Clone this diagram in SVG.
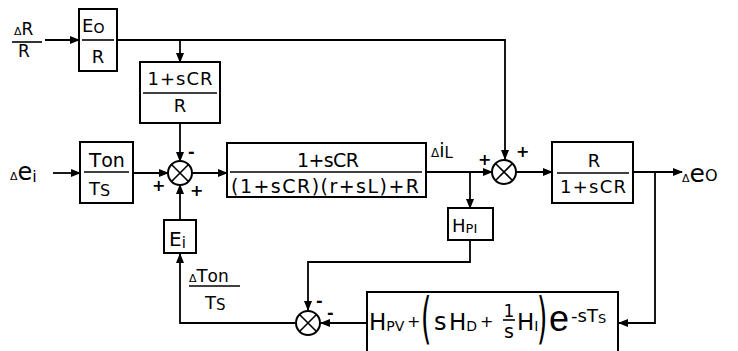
<svg xmlns="http://www.w3.org/2000/svg" width="738" height="351" viewBox="0 0 738 351">
<defs>
<marker id="ah" markerUnits="userSpaceOnUse" markerWidth="10" markerHeight="8" refX="9" refY="4" orient="auto">
<path d="M0,0 L10,4 L0,8 Z" fill="#000"/>
</marker>
<style>
.b{fill:#fff;stroke:#000;stroke-width:2}
.c{fill:none;stroke:#000;stroke-width:1.8}
.a{marker-end:url(#ah)}
.f{stroke:#000;stroke-width:1.6}
text{font-family:"DejaVu Sans","Liberation Sans",sans-serif;fill:#000}
.t18{font-size:18px}
.t19{font-size:19px}
.t20{font-size:20px}
.sg{font-size:16px;font-weight:bold}
.ls{font-family:"Liberation Sans","DejaVu Sans",sans-serif}
</style>
</defs>
<rect width="738" height="351" fill="#fff"/>

<g id="connectors">
<path class="c a" d="M45,40 H79"/>
<path class="c a" d="M117,40 H505 V159"/>
<path class="c a" d="M180,40 V62"/>
<path class="c a" d="M180,123 V161"/>
<path class="c a" d="M53,173 H80"/>
<path class="c a" d="M133,173 H168"/>
<path class="c a" d="M192,173 H227"/>
<path class="c a" d="M426,172 H492"/>
<path class="c a" d="M470,172 V208"/>
<path class="c a" d="M516,172 H552"/>
<path class="c a" d="M633,172 H682"/>
<path class="c a" d="M655,172 V323 H619"/>
<path class="c a" d="M367,323 H321"/>
<path class="c a" d="M470,240 V262 H308 V310"/>
<path class="c a" d="M295,323 H180 V254"/>
<path class="c a" d="M180,220 V185"/>
</g>

<g id="in_dR">
<text x="14" y="35" font-size="17"><tspan font-size="11">Δ</tspan>R</text>
<line class="f" x1="12" y1="42" x2="42" y2="42"/>
<text x="18" y="57" font-size="17">R</text>
</g>

<g id="box_Eo">
<rect class="b" x="79" y="9" width="38" height="62"/>
<text x="82" y="32" class="t18">E<tspan font-size="14" dy="1">O</tspan></text>
<line class="f" x1="82" y1="40" x2="114" y2="40"/>
<text x="98" y="63" class="t18" text-anchor="middle">R</text>
</g>

<g id="box_CR">
<rect class="b" x="140" y="62" width="80" height="61"/>
<text x="180" y="85" class="t18" text-anchor="middle" textLength="65">1+sCR</text>
<line class="f" x1="143" y1="93" x2="217" y2="93"/>
<text x="180" y="112" class="t18" text-anchor="middle">R</text>
</g>

<g id="in_dei">
<text x="10" y="180" font-size="24"><tspan font-size="11">Δ</tspan>e<tspan font-size="16" dy="2">i</tspan></text>
</g>

<g id="box_Ton">
<rect class="b" x="80" y="142" width="53" height="61"/>
<text x="89" y="167" class="t20">T<tspan font-size="19">on</tspan></text>
<line class="f" x1="84" y1="172" x2="129" y2="172"/>
<text x="89" y="195" class="t18">T<tspan font-size="16" dy="1">S</tspan></text>
</g>

<g id="sum1">
<circle cx="180" cy="173" r="12" class="b"/>
<path class="f" d="M171.5,164.5 L188.5,181.5 M188.5,164.5 L171.5,181.5"/>
<text x="188" y="157" class="sg">-</text>
<text x="152" y="191" class="sg">+</text>
<text x="190" y="196" class="sg">+</text>
</g>

<g id="box_plant">
<rect class="b" x="227" y="143" width="199" height="54"/>
<text x="328" y="167" class="t19" text-anchor="middle" textLength="62">1+sCR</text>
<line class="f" x1="230" y1="172" x2="422" y2="172"/>
<text x="325" y="193" class="t19" text-anchor="middle" textLength="188">(1+sCR)(r+sL)+R</text>
</g>

<g id="lbl_diL">
<text x="431" y="157" font-size="19"><tspan font-size="12">Δ</tspan>i<tspan font-size="15" dy="1">L</tspan></text>
</g>

<g id="sum2">
<circle cx="504" cy="172" r="12" class="b"/>
<path class="f" d="M495.5,163.5 L512.5,180.5 M512.5,163.5 L495.5,180.5"/>
<text x="478" y="165" class="sg">+</text>
<text x="516" y="157" class="sg">+</text>
</g>

<g id="box_R">
<rect class="b" x="552" y="142" width="81" height="61"/>
<text x="594" y="167" class="t18" text-anchor="middle">R</text>
<line class="f" x1="557" y1="173" x2="629" y2="173"/>
<text x="593" y="193" class="t18" text-anchor="middle" textLength="66">1+sCR</text>
</g>

<g id="out_deo">
<text x="682" y="182" font-size="25"><tspan font-size="11">Δ</tspan>e<tspan font-size="16" dy="-1">O</tspan></text>
</g>

<g id="box_HPI">
<rect class="b" x="448" y="208" width="45" height="32"/>
<text x="452" y="232" class="t18">H<tspan font-size="13" dy="1">PI</tspan></text>
</g>

<g id="box_Ei">
<rect class="b" x="164" y="220" width="32" height="33"/>
<text x="169" y="246" class="t20">E<tspan font-size="15" dy="2">i</tspan></text>
</g>

<g id="lbl_dTon">
<text x="189" y="282" class="t18"><tspan font-size="11">Δ</tspan>T<tspan font-size="17">on</tspan></text>
<line class="f" x1="189" y1="286" x2="240" y2="286"/>
<text x="205" y="309" class="t18">T<tspan font-size="15" dy="1">S</tspan></text>
</g>

<g id="sum3">
<circle cx="308" cy="323" r="12" class="b"/>
<path class="f" d="M299.5,314.5 L316.5,331.5 M316.5,314.5 L299.5,331.5"/>
<text x="316" y="306" class="sg">-</text>
<text x="327" y="318" class="sg">-</text>
</g>

<g id="box_ctrl">
<rect class="b" x="367" y="292" width="251" height="70"/>
<text x="369" y="330" font-size="23">H<tspan font-size="14" dy="1">PV</tspan></text>
<text x="407" y="327" font-size="16">+</text>
<text transform="translate(421,337) scale(0.6,1.25)" font-size="44">(</text>
<text x="434" y="330" font-size="24">s</text>
<text x="449" y="330" font-size="23">H<tspan font-size="14" dy="1">D</tspan></text>
<text x="480" y="327" font-size="16">+</text>
<text x="509" y="317" font-size="17" text-anchor="middle">1</text>
<line class="f" x1="503" y1="320" x2="515" y2="320"/>
<text x="509" y="338" font-size="19" text-anchor="middle">s</text>
<text x="517" y="330" font-size="23">H<tspan font-size="14" dy="1">I</tspan></text>
<text transform="translate(537,337) scale(0.6,1.25)" font-size="44">)</text>
<text x="549" y="331" font-size="36" class="ls">e</text>
<text x="571" y="322" font-size="18">-s<tspan>T</tspan><tspan font-size="13" dy="1">S</tspan></text>
</g>
</svg>
